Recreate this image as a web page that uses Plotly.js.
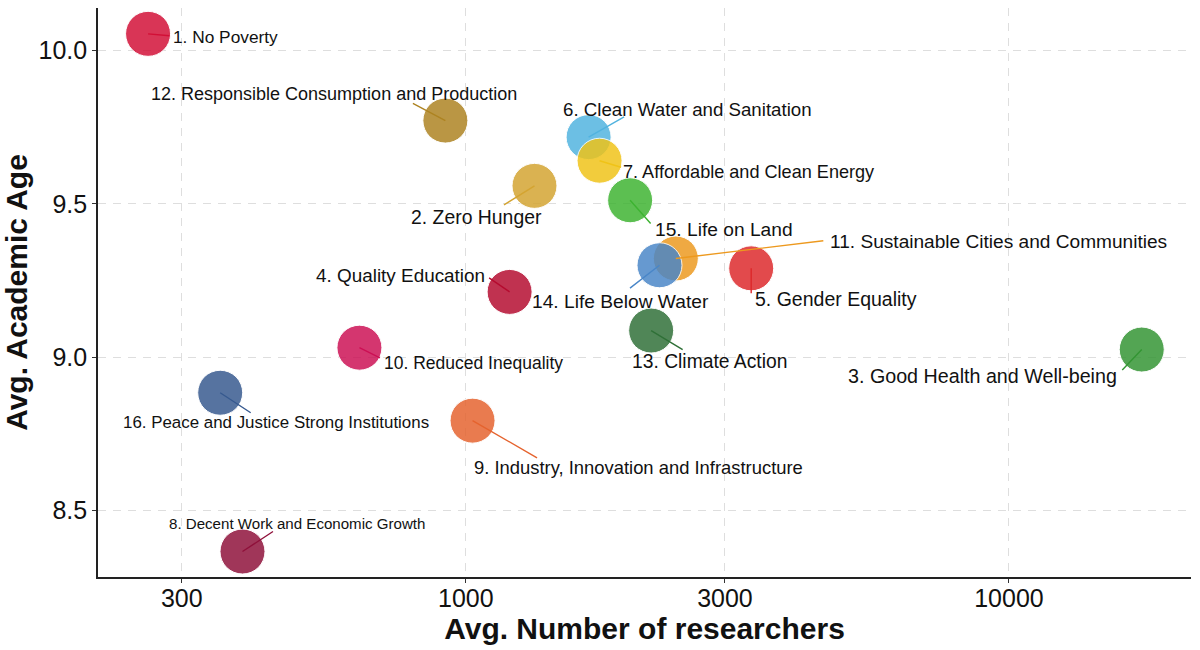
<!DOCTYPE html>
<html>
<head>
<meta charset="utf-8">
<script src="https://cdn.plot.ly/plotly-3.0.1.min.js"></script>
<style>
  html, body { margin: 0; padding: 0; background: #fff; }
  #chart { width: 1200px; height: 650px; }
</style>
</head>
<body>
<div id="chart"></div>
<script>
(function () {
  "use strict";

  // ---------- Data ----------
  const goals = [
    "1. No Poverty",
    "2. Zero Hunger",
    "3. Good Health and Well-being",
    "4. Quality Education",
    "5. Gender Equality",
    "6. Clean Water and Sanitation",
    "7. Affordable and Clean Energy",
    "8. Decent Work and Economic Growth",
    "9. Industry, Innovation and Infrastructure",
    "10. Reduced Inequality",
    "11. Sustainable Cities and Communities",
    "12. Responsible Consumption and Production",
    "13. Climate Action",
    "14. Life Below Water",
    "15. Life on Land",
    "16. Peace and Justice Strong Institutions",
  ];
  const researchers = [260, 1338, 17560, 1204, 3353, 1683, 1763, 388, 1029, 637, 2436, 917, 2194, 2273, 2007, 353];
  const academicAge = [10.055, 9.559, 9.025, 9.213, 9.290, 9.718, 9.641, 8.366, 8.793, 9.031, 9.322, 9.772, 9.087, 9.300, 9.512, 8.884];

  const xTickVals = [300, 1000, 3000, 10000];
  const xTickText = ["300", "1000", "3000", "10000"];
  const yTickVals = [8.5, 9.0, 9.5, 10.0];

  // ---------- Styles ----------
  const goalColor = [
    "#d20f36", "#d4a431", "#339533", "#b50b2f", "#dd282a", "#51b3df", "#f0c317", "#8f103a",
    "#e5632e", "#cc1054", "#ed991e", "#ad8321", "#2f7037", "#4986c8", "#3db331", "#36598f",
  ];
  // label text centre, pixel offset from the bubble (repelled-label layout)
  const labelOffset = [
    [77, 3], [-58, 31], [-159, 26], [-109, -16], [85, 31], [99, -28], [149, 11], [55, -28],
    [166, 47], [114, 15], [323, -17], [-111, -27], [58, 31], [-39, 36], [94, 29], [56, 30],
  ];
  // end of the leader segment, pixel offset from the bubble
  const segmentEnd = [
    [23, 2], [-32, 20], [-21, 22], [-22, -15], [0, 27], [37, -21], [23, 7], [32, -21],
    [66, 38], [22, 11], [149, -18], [-34, -18], [33, 20], [-31, 24], [22, 25], [32, 21],
  ];
  const labelSize = [17.3, 19.4, 19.7, 18.9, 19.5, 18.7, 18.1, 15.1, 18.4, 17.5, 19.1, 18.0, 19.3, 19.2, 19.2, 16.9];

  const FONT = "'Liberation Sans', Arial, Helvetica, sans-serif";

  const trace = {
    x: researchers,
    y: academicAge,
    type: "scatter",
    mode: "markers",
    text: goals,
    hoverinfo: "text",
    marker: {
      size: 45,
      color: goalColor,
      opacity: 0.84,
      line: { color: "#ffffff", width: 1 },
    },
    showlegend: false,
  };

  const annotations = [];
  goals.forEach((g, i) => {
    const x = Math.log10(researchers[i]);
    const y = academicAge[i];
    // leader segment
    annotations.push({
      x: x, y: y, xref: "x", yref: "y",
      text: " ",
      font: { size: 1 },
      showarrow: true,
      arrowhead: 0,
      arrowwidth: 1.4,
      arrowcolor: goalColor[i],
      standoff: 0,
      ax: segmentEnd[i][0],
      ay: segmentEnd[i][1],
      axref: "pixel", ayref: "pixel",
    });
    // label
    annotations.push({
      x: x, y: y, xref: "x", yref: "y",
      text: g,
      showarrow: false,
      xshift: labelOffset[i][0],
      yshift: -labelOffset[i][1],
      font: { family: FONT, size: labelSize[i], color: "#111111" },
    });
  });

  const axisCommon = {
    showline: true,
    linecolor: "#222222",
    linewidth: 1.6,
    ticks: "outside",
    ticklen: 4,
    tickwidth: 1,
    tickcolor: "#333333",
    tickfont: { family: FONT, size: 25, color: "#111111" },
    showgrid: true,
    gridcolor: "#dedede",
    gridwidth: 1,
    griddash: "8px,7px",
    zeroline: false,
  };

  const layout = {
    width: 1200,
    height: 650,
    paper_bgcolor: "#ffffff",
    plot_bgcolor: "#ffffff",
    margin: { l: 98, r: 9, t: 8, b: 73 },
    font: { family: FONT, color: "#111111" },
    xaxis: Object.assign({}, axisCommon, {
      type: "log",
      range: [2.3228, 4.3352],
      tickvals: xTickVals,
      ticktext: xTickText,
      ticklabelstandoff: -6,
      title: {
        text: "<b>Avg. Number of researchers</b>",
        font: { family: FONT, size: 30, color: "#111111" },
        standoff: 0,
      },
    }),
    yaxis: Object.assign({}, axisCommon, {
      range: [8.2829, 10.1393],
      tickvals: yTickVals,
      tickformat: ".1f",
      title: {
        text: "<b>Avg. Academic Age</b>",
        font: { family: FONT, size: 30, color: "#111111" },
        standoff: 6,
      },
    }),
    annotations: annotations,
    hovermode: "closest",
  };

  Plotly.newPlot("chart", [trace], layout, { displayModeBar: false, responsive: false });
})();
</script>
</body>
</html>
